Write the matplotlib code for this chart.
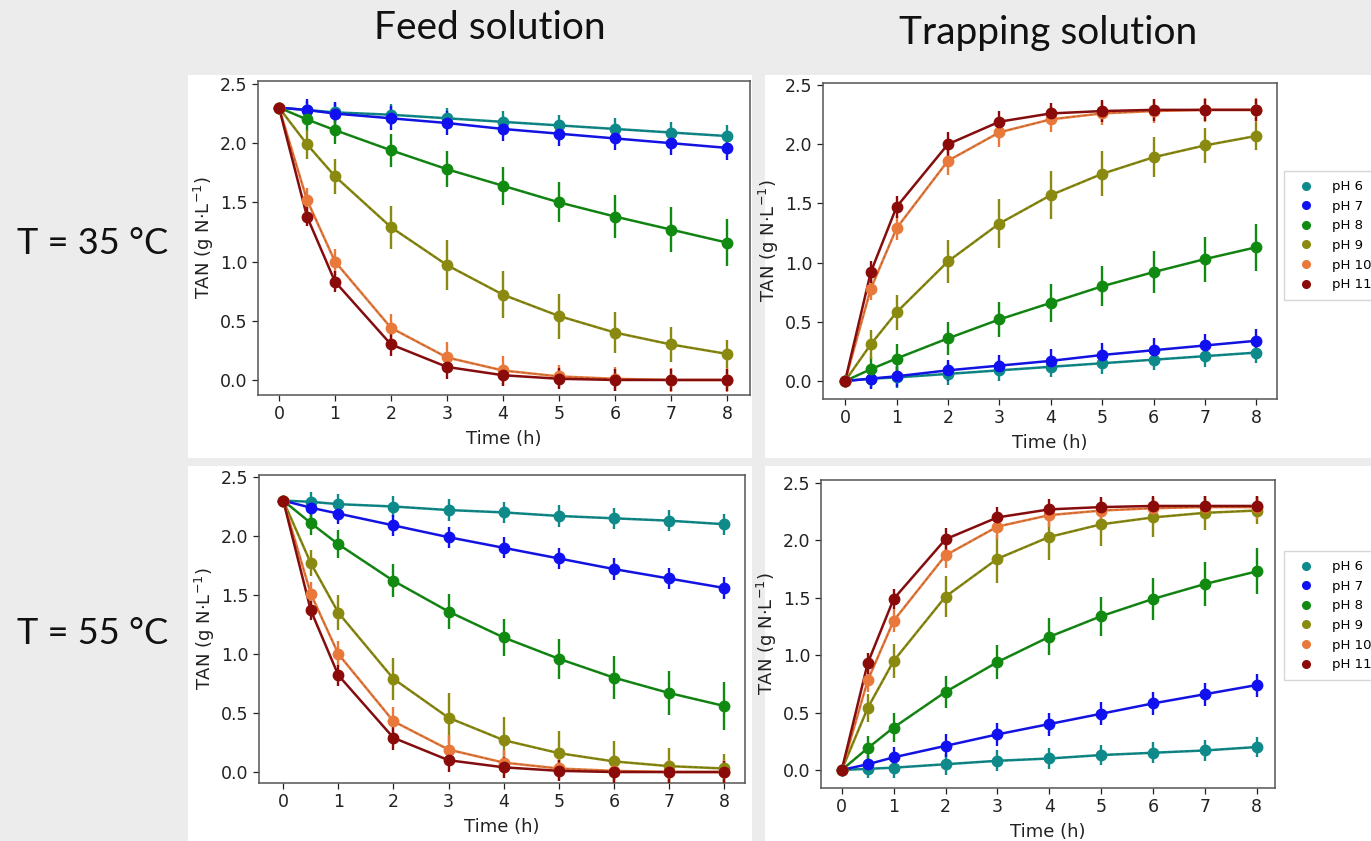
import matplotlib
matplotlib.use("Agg")
import matplotlib.pyplot as plt
from matplotlib.patches import Rectangle
from matplotlib.lines import Line2D

# ---------------- data ----------------
time_h = [0, 0.5, 1, 2, 3, 4, 5, 6, 7, 8]
series_labels = ["pH 6", "pH 7", "pH 8", "pH 9", "pH 10", "pH 11"]
series_colors = ["#0e8a8a", "#1010f0", "#118a11", "#8a8a10", "#e8793a", "#8b0a0a"]

# Feed solution, T = 35 °C
feed35 = [
    [2.30, 2.28, 2.26, 2.24, 2.21, 2.18, 2.15, 2.12, 2.09, 2.06],
    [2.30, 2.28, 2.25, 2.21, 2.17, 2.12, 2.08, 2.04, 2.00, 1.96],
    [2.30, 2.20, 2.11, 1.94, 1.78, 1.64, 1.50, 1.38, 1.27, 1.16],
    [2.30, 1.99, 1.72, 1.29, 0.97, 0.72, 0.54, 0.40, 0.30, 0.22],
    [2.30, 1.52, 1.00, 0.44, 0.19, 0.08, 0.03, 0.01, 0.00, 0.00],
    [2.30, 1.38, 0.83, 0.30, 0.11, 0.04, 0.01, 0.00, 0.00, 0.00],
]
feed35_err = [
    [0.0, 0.08, 0.08, 0.09, 0.09, 0.09, 0.09, 0.09, 0.09, 0.09],
    [0.0, 0.09, 0.10, 0.10, 0.10, 0.10, 0.10, 0.10, 0.10, 0.10],
    [0.0, 0.10, 0.12, 0.14, 0.15, 0.16, 0.17, 0.18, 0.19, 0.20],
    [0.0, 0.12, 0.15, 0.18, 0.21, 0.20, 0.19, 0.17, 0.15, 0.12],
    [0.0, 0.10, 0.11, 0.12, 0.13, 0.12, 0.10, 0.10, 0.10, 0.10],
    [0.0, 0.08, 0.09, 0.10, 0.10, 0.09, 0.09, 0.09, 0.09, 0.09],
]

# Trapping solution, T = 35 °C
trap35 = [
    [0.00, 0.02, 0.03, 0.06, 0.09, 0.12, 0.15, 0.18, 0.21, 0.24],
    [0.00, 0.02, 0.04, 0.09, 0.13, 0.17, 0.22, 0.26, 0.30, 0.34],
    [0.00, 0.10, 0.19, 0.36, 0.52, 0.66, 0.80, 0.92, 1.03, 1.13],
    [0.00, 0.31, 0.58, 1.01, 1.33, 1.57, 1.75, 1.89, 1.99, 2.07],
    [0.00, 0.78, 1.29, 1.86, 2.10, 2.21, 2.26, 2.28, 2.29, 2.29],
    [0.00, 0.92, 1.47, 2.00, 2.19, 2.26, 2.28, 2.29, 2.29, 2.29],
]
trap35_err = [
    [0.0, 0.08, 0.09, 0.09, 0.09, 0.09, 0.09, 0.09, 0.09, 0.09],
    [0.0, 0.09, 0.09, 0.09, 0.09, 0.10, 0.10, 0.10, 0.10, 0.10],
    [0.0, 0.10, 0.12, 0.14, 0.15, 0.16, 0.17, 0.18, 0.19, 0.20],
    [0.0, 0.12, 0.15, 0.18, 0.21, 0.20, 0.19, 0.17, 0.15, 0.12],
    [0.0, 0.10, 0.10, 0.12, 0.12, 0.11, 0.10, 0.10, 0.10, 0.10],
    [0.0, 0.09, 0.09, 0.10, 0.09, 0.09, 0.09, 0.09, 0.09, 0.09],
]

# Feed solution, T = 55 °C
feed55 = [
    [2.30, 2.29, 2.27, 2.25, 2.22, 2.20, 2.17, 2.15, 2.13, 2.10],
    [2.30, 2.24, 2.19, 2.09, 1.99, 1.90, 1.81, 1.72, 1.64, 1.56],
    [2.30, 2.11, 1.93, 1.62, 1.36, 1.14, 0.96, 0.80, 0.67, 0.56],
    [2.30, 1.77, 1.35, 0.79, 0.46, 0.27, 0.16, 0.09, 0.05, 0.03],
    [2.30, 1.51, 1.00, 0.43, 0.19, 0.08, 0.03, 0.01, 0.00, 0.00],
    [2.30, 1.37, 0.82, 0.29, 0.10, 0.04, 0.01, 0.00, 0.00, 0.00],
]
feed55_err = [
    [0.0, 0.08, 0.09, 0.09, 0.09, 0.09, 0.09, 0.09, 0.09, 0.09],
    [0.0, 0.09, 0.09, 0.09, 0.09, 0.09, 0.09, 0.09, 0.09, 0.09],
    [0.0, 0.10, 0.12, 0.14, 0.15, 0.16, 0.17, 0.18, 0.19, 0.20],
    [0.0, 0.11, 0.15, 0.18, 0.21, 0.20, 0.19, 0.17, 0.15, 0.12],
    [0.0, 0.10, 0.11, 0.12, 0.12, 0.11, 0.10, 0.10, 0.10, 0.10],
    [0.0, 0.08, 0.09, 0.10, 0.10, 0.09, 0.09, 0.09, 0.09, 0.09],
]

# Trapping solution, T = 55 °C
trap55 = [
    [0.00, 0.01, 0.02, 0.05, 0.08, 0.10, 0.13, 0.15, 0.17, 0.20],
    [0.00, 0.05, 0.11, 0.21, 0.31, 0.40, 0.49, 0.58, 0.66, 0.74],
    [0.00, 0.19, 0.37, 0.68, 0.94, 1.16, 1.34, 1.49, 1.62, 1.73],
    [0.00, 0.54, 0.95, 1.51, 1.84, 2.03, 2.14, 2.20, 2.24, 2.26],
    [0.00, 0.78, 1.30, 1.87, 2.12, 2.22, 2.26, 2.28, 2.29, 2.29],
    [0.00, 0.93, 1.49, 2.01, 2.20, 2.27, 2.29, 2.30, 2.30, 2.30],
]
trap55_err = [
    [0.0, 0.08, 0.09, 0.09, 0.09, 0.09, 0.09, 0.09, 0.09, 0.09],
    [0.0, 0.08, 0.09, 0.10, 0.10, 0.10, 0.10, 0.10, 0.10, 0.10],
    [0.0, 0.11, 0.13, 0.14, 0.15, 0.16, 0.17, 0.18, 0.19, 0.20],
    [0.0, 0.12, 0.15, 0.18, 0.21, 0.20, 0.19, 0.17, 0.15, 0.12],
    [0.0, 0.10, 0.10, 0.11, 0.11, 0.10, 0.10, 0.10, 0.10, 0.10],
    [0.0, 0.09, 0.09, 0.10, 0.09, 0.09, 0.09, 0.09, 0.09, 0.09],
]

column_titles = ["Feed solution", "Trapping solution"]
row_titles = ["T = 35 °C", "T = 55 °C"]
y_ticks = [0.0, 0.5, 1.0, 1.5, 2.0, 2.5]
x_ticks = [0, 1, 2, 3, 4, 5, 6, 7, 8]
x_label = "Time (h)"
y_label = r"TAN (g N$\cdot$L$^{-1}$)"

# ---------------- figure ----------------
W, H = 1371, 841
fig = plt.figure(figsize=(W / 100, H / 100), dpi=100, facecolor="#ececec")


def px_rect(l, t, r, b):
    return [l / W, 1 - b / H, (r - l) / W, (b - t) / H]


# white image backgrounds (screenshots on slide)
for (l, t, r, b) in [(188, 75, 752, 458), (765, 75, W + 5, 458),
                     (188, 466, 752, H + 5), (765, 466, W + 5, H + 5)]:
    fig.patches.append(Rectangle((l / W, 1 - b / H), (r - l) / W, (b - t) / H,
                                 transform=fig.transFigure, facecolor="white",
                                 edgecolor="none", zorder=-5))

panels = [
    (px_rect(258, 81, 750, 395), feed35, feed35_err, (-0.375, 8.41), (-0.127, 2.525)),
    (px_rect(823, 83, 1277, 399), trap35, trap35_err, (-0.43, 8.40), (-0.152, 2.517)),
    (px_rect(259, 475, 745, 783), feed55, feed55_err, (-0.44, 8.38), (-0.093, 2.517)),
    (px_rect(821, 480, 1275, 788), trap55, trap55_err, (-0.40, 8.35), (-0.157, 2.526)),
]

for idx, (rect, data, errs, xl, yl) in enumerate(panels):
    ax = fig.add_axes(rect)
    ax.set_zorder(1)
    ax.set_facecolor("white")
    for vals, err, col, lab in zip(data, errs, series_colors, series_labels):
        ax.plot(time_h, vals, color=col, lw=1.8, zorder=2)
        ax.plot(time_h, vals, color="#333333", lw=0.6, ls=(0, (4, 3)), alpha=0.35, zorder=2)
        ax.errorbar(time_h, vals, yerr=err, fmt="o", color=col, ms=7.5,
                    elinewidth=1.7, capsize=0, zorder=3, label=lab)
    ax.set_xlim(*xl)
    ax.set_ylim(*yl)
    ax.set_xticks(x_ticks)
    ax.set_yticks(y_ticks)
    ax.set_yticklabels([f"{v:.1f}" for v in y_ticks])
    ax.tick_params(labelsize=12.5, colors="#222222", length=4, width=0.9, direction="out")
    for s in ax.spines.values():
        s.set_color("#555555")
        s.set_linewidth(1.1)
    ax.set_xlabel(x_label, fontsize=13, color="#222222", labelpad=5)
    ax.set_ylabel(y_label, fontsize=13, color="#222222", labelpad=3)

    if idx in (1, 3):
        handles = [Line2D([], [], marker="o", ls="none", color=c, ms=5.5) for c in series_colors]
        top_px = 171 if idx == 1 else 551
        leg = fig.legend(handles, series_labels, loc="upper left",
                         bbox_to_anchor=(1284 / W, 1 - top_px / H),
                         bbox_transform=fig.transFigure, fontsize=9.5,
                         frameon=True, fancybox=False, edgecolor="#cccccc",
                         handletextpad=0.9, labelspacing=0.5, borderpad=0.7,
                         handlelength=2.0, borderaxespad=0)
        leg.set_zorder(5)

# column titles
fig.text(490 / W, 1 - 28 / H, column_titles[0], fontsize=28, family="Lato",
         ha="center", va="center", color="#111111")
fig.text(1048 / W, 1 - 33 / H, column_titles[1], fontsize=28, family="Lato",
         ha="center", va="center", color="#111111")
# row titles
fig.text(93 / W, 1 - 243 / H, row_titles[0], fontsize=26, family="Lato",
         ha="center", va="center", color="#111111")
fig.text(93 / W, 1 - 633 / H, row_titles[1], fontsize=26, family="Lato",
         ha="center", va="center", color="#111111")

fig.savefig("out.png", dpi=100, facecolor=fig.get_facecolor())
